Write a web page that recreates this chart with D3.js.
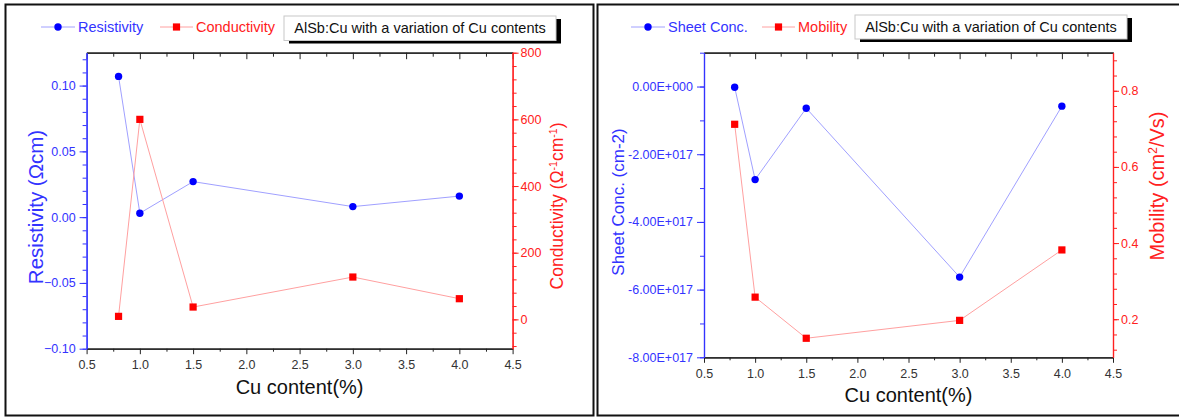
<!DOCTYPE html>
<html>
<head>
<meta charset="utf-8">
<script src="https://cdn.jsdelivr.net/npm/d3@7"></script>
<style>
  body { margin: 0; background: #fff; }
  svg { display: block; }
  text { font-family: "Liberation Sans", Arial, Helvetica, sans-serif; }
</style>
</head>
<body>
<svg id="chart" width="1179" height="417"></svg>
<script>
// Cu content of the AlSb:Cu films (%)
const cuContent = [0.8, 1.0, 1.5, 3.0, 4.0];

// Electrical properties measured for each film
const resistivity = [0.107, 0.003, 0.027, 0.008, 0.016];          // Ω·cm
const conductivity = [9, 600, 37, 127, 62];                        // Ω^-1·cm^-1
const sheetConc = [-2e15, -2.75e17, -6.4e16, -5.63e17, -5.8e16];   // cm^-2
const mobility = [0.712, 0.258, 0.150, 0.197, 0.382];              // cm^2/Vs

// Tick labels
const xTicks = [0.5, 1.0, 1.5, 2.0, 2.5, 3.0, 3.5, 4.0, 4.5];
const resistivityTicks = [-0.10, -0.05, 0.00, 0.05, 0.10];
const conductivityTicks = [0, 200, 400, 600, 800];
const sheetTicks = [-8e17, -6e17, -4e17, -2e17, 0];
const mobilityTicks = [0.2, 0.4, 0.6, 0.8];

const boxLabel = "AlSb:Cu with a variation of Cu contents";

const BLUE = "#0000ff", BLUE_TXT = "#3333ff", BLUE_LINE = "#a0a0ff";
const RED = "#ff0000", RED_TXT = "#ff2020", RED_LINE = "#ffa0a0";
const TICK_FONT = 12.5;

const svg = d3.select("#chart");

// Origin-style scientific notation, e.g. -2.00E+017
function sci(v) {
  if (v === 0) return "0.00E+000";
  const sign = v < 0 ? "-" : "";
  const a = Math.abs(v);
  const e = Math.floor(Math.log10(a));
  const m = a / Math.pow(10, e);
  return sign + m.toFixed(2) + "E+" + String(e).padStart(3, "0");
}

function range(a, b, step) {
  const out = [];
  const n = Math.round((b - a) / step);
  for (let i = 0; i <= n; i++) out.push(+(a + i * step).toFixed(10));
  return out;
}

function styleAxis(sel, color, textColor) {
  sel.select(".domain").attr("stroke", color).attr("stroke-width", 1.2);
  sel.selectAll(".tick line").attr("stroke", color).attr("stroke-width", 1);
  sel.selectAll(".tick text").attr("fill", textColor).attr("font-size", TICK_FONT)
     .attr("font-family", '"Liberation Sans", Arial, sans-serif');
}

function drawPanel(cfg) {
  const g = svg.append("g");

  // panel frame
  g.append("rect")
    .attr("x", cfg.frame[0]).attr("y", cfg.frame[1])
    .attr("width", cfg.frame[2]).attr("height", cfg.frame[3])
    .attr("fill", "none").attr("stroke", "#111").attr("stroke-width", 2);

  const x = d3.scaleLinear().domain([0.5, 4.5]).range([cfg.left, cfg.right]);
  const yL = d3.scaleLinear().domain(cfg.leftDomain).range([cfg.bottom, cfg.top]);
  const yR = d3.scaleLinear().domain(cfg.rightDomain).range([cfg.bottom, cfg.top]);

  const xMinor = range(0.75, 4.25, 0.5);

  // bottom axis
  const bMinor = g.append("g").attr("transform", `translate(0,${cfg.bottom})`)
    .call(d3.axisBottom(x).tickValues(xMinor).tickSize(3).tickSizeOuter(0).tickFormat(""));
  styleAxis(bMinor, "#222", "#222");
  const bMajor = g.append("g").attr("transform", `translate(0,${cfg.bottom})`)
    .call(d3.axisBottom(x).tickValues(xTicks).tickSize(5.5).tickSizeOuter(0)
      .tickPadding(6).tickFormat(d3.format(".1f")));
  styleAxis(bMajor, "#222", "#333");

  // top axis, ticks pointing inward
  const tMinor = g.append("g").attr("transform", `translate(0,${cfg.top})`)
    .call(d3.axisTop(x).tickValues(xMinor).tickSize(-4).tickSizeOuter(0).tickFormat(""));
  styleAxis(tMinor, "#222", "#222");
  const tMajor = g.append("g").attr("transform", `translate(0,${cfg.top})`)
    .call(d3.axisTop(x).tickValues(xTicks).tickSize(-6.5).tickSizeOuter(0).tickFormat(""));
  styleAxis(tMajor, "#222", "#222");

  // left axis
  const lMinor = g.append("g").attr("transform", `translate(${cfg.left},0)`)
    .call(d3.axisLeft(yL).tickValues(cfg.leftMinor).tickSize(4).tickSizeOuter(0).tickFormat(""));
  styleAxis(lMinor, BLUE_TXT, BLUE_TXT);
  const lMajor = g.append("g").attr("transform", `translate(${cfg.left},0)`)
    .call(d3.axisLeft(yL).tickValues(cfg.leftTicks).tickSize(7).tickSizeOuter(0)
      .tickPadding(4).tickFormat(cfg.leftFormat));
  styleAxis(lMajor, BLUE_TXT, BLUE_TXT);

  // right axis
  const rMinor = g.append("g").attr("transform", `translate(${cfg.right},0)`)
    .call(d3.axisRight(yR).tickValues(cfg.rightMinor).tickSize(4).tickSizeOuter(0).tickFormat(""));
  styleAxis(rMinor, RED_TXT, RED_TXT);
  const rMajor = g.append("g").attr("transform", `translate(${cfg.right},0)`)
    .call(d3.axisRight(yR).tickValues(cfg.rightTicks).tickSize(6).tickSizeOuter(0)
      .tickPadding(2).tickFormat(cfg.rightFormat));
  styleAxis(rMajor, RED_TXT, RED_TXT);

  // series lines
  const lineL = d3.line().x((d, i) => x(cuContent[i])).y(d => yL(d));
  const lineR = d3.line().x((d, i) => x(cuContent[i])).y(d => yR(d));
  g.append("path").datum(cfg.leftValues).attr("d", lineL)
    .attr("fill", "none").attr("stroke", BLUE_LINE).attr("stroke-width", 1);
  g.append("path").datum(cfg.rightValues).attr("d", lineR)
    .attr("fill", "none").attr("stroke", RED_LINE).attr("stroke-width", 1);

  // markers
  g.selectAll(null).data(cfg.leftValues).join("circle")
    .attr("cx", (d, i) => x(cuContent[i])).attr("cy", d => yL(d))
    .attr("r", 3.7).attr("fill", BLUE);
  g.selectAll(null).data(cfg.rightValues).join("rect")
    .attr("x", (d, i) => x(cuContent[i]) - 3.6).attr("y", d => yR(d) - 3.6)
    .attr("width", 7.2).attr("height", 7.2).attr("fill", RED);

  // axis titles
  g.append("text")
    .attr("transform", `translate(${(cfg.left + cfg.right) / 2},${cfg.bottom + 45}) `)
    .attr("text-anchor", "middle").attr("font-size", 20).attr("fill", "#111")
    .text("Cu content(%)");

  const lt = g.append("text")
    .attr("transform", `translate(${cfg.leftTitleX},${cfg.leftTitleY}) rotate(-90)`)
    .attr("text-anchor", "middle").attr("font-size", cfg.leftTitleSize).attr("fill", BLUE_TXT);
  cfg.leftTitle.forEach(p => {
    const t = lt.append("tspan").text(p.t);
    if (p.sup) t.attr("baseline-shift", "super").attr("font-size", cfg.leftTitleSize * 0.6);
  });
  const rt = g.append("text")
    .attr("transform", `translate(${cfg.rightTitleX},${cfg.rightTitleY}) rotate(-90)`)
    .attr("text-anchor", "middle").attr("font-size", cfg.rightTitleSize).attr("fill", RED_TXT);
  cfg.rightTitle.forEach(p => {
    const t = rt.append("tspan").text(p.t);
    if (p.sup) t.attr("baseline-shift", "super").attr("font-size", cfg.rightTitleSize * 0.6);
  });

  // legend
  const ly = 27;
  const lg = g.append("g");
  const s1 = cfg.legend[0], s2 = cfg.legend[1];
  lg.append("line").attr("x1", s1.x0).attr("x2", s1.x1).attr("y1", ly).attr("y2", ly)
    .attr("stroke", BLUE_LINE).attr("stroke-width", 1);
  lg.append("circle").attr("cx", (s1.x0 + s1.x1) / 2).attr("cy", ly).attr("r", 3.7).attr("fill", BLUE);
  lg.append("text").attr("x", s1.x1 + 3).attr("y", ly + 5).attr("font-size", 14.5)
    .attr("fill", BLUE_TXT).text(s1.label);
  lg.append("line").attr("x1", s2.x0).attr("x2", s2.x1).attr("y1", ly).attr("y2", ly)
    .attr("stroke", RED_LINE).attr("stroke-width", 1);
  lg.append("rect").attr("x", (s2.x0 + s2.x1) / 2 - 3.6).attr("y", ly - 3.6)
    .attr("width", 7.2).attr("height", 7.2).attr("fill", RED);
  lg.append("text").attr("x", s2.x1 + 3).attr("y", ly + 5).attr("font-size", 14.5)
    .attr("fill", RED_TXT).text(s2.label);

  // caption box with drop shadow
  const b = cfg.box;
  g.append("rect").attr("x", b[0] + 5).attr("y", b[1] + 3).attr("width", b[2]).attr("height", b[3])
    .attr("fill", "#000");
  g.append("rect").attr("x", b[0]).attr("y", b[1]).attr("width", b[2]).attr("height", b[3])
    .attr("fill", "#fff").attr("stroke", "#c8c8c8").attr("stroke-width", 1);
  g.append("text").attr("x", b[0] + b[2] / 2).attr("y", b[1] + b[3] / 2 + 5)
    .attr("text-anchor", "middle").attr("font-size", 14.5).attr("fill", "#111").text(boxLabel);
}

// Resistivity / conductivity
drawPanel({
  frame: [5.5, 4.5, 588, 411],
  left: 86.6, right: 512.6, top: 52.7, bottom: 348.7,
  leftDomain: [-0.10, 0.125], rightDomain: [-88, 800],
  leftTicks: resistivityTicks, leftMinor: range(-0.10, 0.12, 0.01),
  rightTicks: conductivityTicks, rightMinor: range(-80, 800, 40),
  leftFormat: d3.format(".2f"), rightFormat: d3.format("d"),
  leftValues: resistivity, rightValues: conductivity,
  leftTitle: [{ t: "Resistivity (Ωcm)" }], leftTitleSize: 20.5, leftTitleX: 43, leftTitleY: 207,
  rightTitle: [{ t: "Conductivity (Ω" }, { t: "-1", sup: true }, { t: "cm" }, { t: "-1", sup: true }, { t: ")" }],
  rightTitleSize: 17.5, rightTitleX: 563, rightTitleY: 206,
  legend: [{ x0: 41, x1: 75, label: "Resistivity" }, { x0: 160, x1: 193, label: "Conductivity" }],
  box: [284, 16, 272, 24.5]
});

// Sheet concentration / mobility
drawPanel({
  frame: [597.5, 4.5, 590, 411],
  left: 704, right: 1113, top: 52.7, bottom: 357.3,
  leftDomain: [-8e17, 1e17], rightDomain: [0.1, 0.9],
  leftTicks: sheetTicks, leftMinor: range(-8e17, 1e17, 1e17),
  rightTicks: mobilityTicks, rightMinor: range(0.12, 0.88, 0.04),
  leftFormat: sci, rightFormat: d3.format(".1f"),
  leftValues: sheetConc, rightValues: mobility,
  leftTitle: [{ t: "Sheet Conc. (cm-2)" }], leftTitleSize: 17, leftTitleX: 624, leftTitleY: 202,
  rightTitle: [{ t: "Mobility (cm" }, { t: "2", sup: true }, { t: "/Vs)" }],
  rightTitleSize: 20, rightTitleX: 1164, rightTitleY: 186,
  legend: [{ x0: 631, x1: 665, label: "Sheet Conc." }, { x0: 762, x1: 795, label: "Mobility" }],
  box: [855, 15, 272, 24]
});
</script>
</body>
</html>
